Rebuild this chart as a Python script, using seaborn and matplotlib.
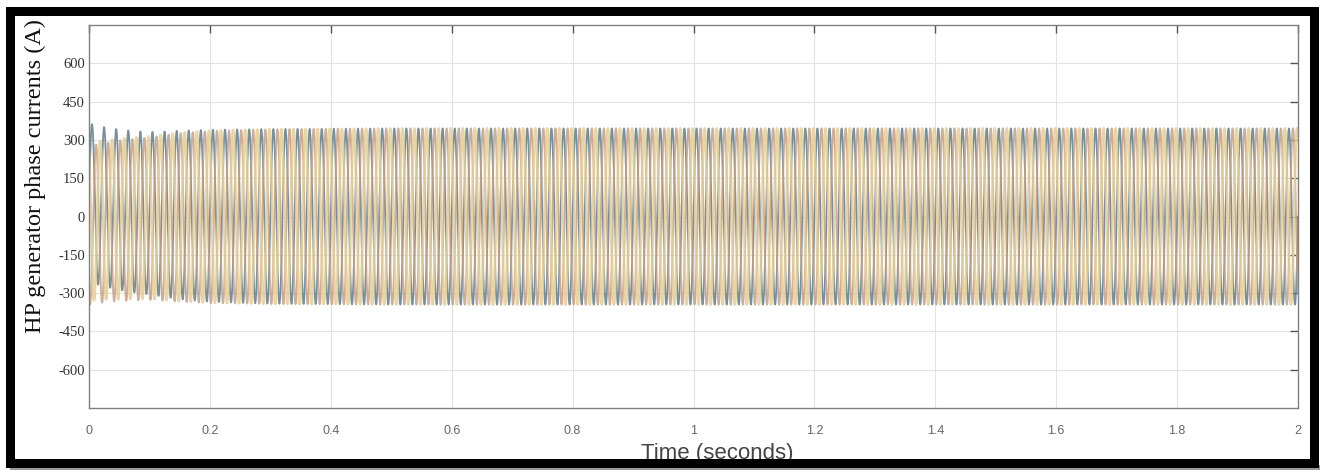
import numpy as np
import pandas as pd
import matplotlib
matplotlib.use("Agg")
import matplotlib.pyplot as plt
import seaborn as sns
from matplotlib.patches import Rectangle

# ---- data ----
freq_hz = 50.0                     # ~100 cycles over 2 s
t_end = 2.0
# peak-current envelope (A) at key times
env_t = [0.0, 0.03, 0.06, 0.10, 0.15, 0.20, 0.30, 0.50, 1.00, 2.00]
env_a = [310, 312, 315, 318, 330, 337, 342, 345, 345, 345]
# initial decaying offsets per phase (A), giving the start-up spikes
dc0 = [55, -35, -20]
dc_tau = 0.07
phase_names = ["Ia", "Ib", "Ic"]
phase_shift_deg = [0, -120, 120]
phase_colors = ["#5f7d90", "#c99f80", "#e2cf98"]

yticks = [-600, -450, -300, -150, 0, 150, 300, 450, 600]
xticks = [0, 0.2, 0.4, 0.6, 0.8, 1.0, 1.2, 1.4, 1.6, 1.8, 2.0]
xticklabels = ["0", "0.2", "0.4", "0.6", "0.8", "1", "1.2", "1.4", "1.6", "1.8", "2"]

# ---- build waveforms ----
t = np.linspace(0, t_end, 24001)
env = np.interp(t, env_t, env_a)
frames = []
for name, sh, d in zip(phase_names, phase_shift_deg, dc0):
    i = env * np.sin(2 * np.pi * freq_hz * t + np.deg2rad(sh)) + d * np.exp(-t / dc_tau)
    frames.append(pd.DataFrame({"t": t, "i": i, "phase": name}))
df = pd.concat(frames, ignore_index=True)

# ---- figure ----
sns.set_theme(style="whitegrid")
plt.rcParams["font.family"] = ["Liberation Sans", "DejaVu Sans"]

W, H = 1320, 470
fig = plt.figure(figsize=(W / 100, H / 100), dpi=100)
fig.patch.set_facecolor("white")
ax_l, ax_r, ax_t, ax_b = 89, 1298, 25, 408
ax = fig.add_axes([ax_l / W, 1 - ax_b / H, (ax_r - ax_l) / W, (ax_b - ax_t) / H])
ax.set_facecolor("white")

for name, col, lw in zip(phase_names, phase_colors, [1.3, 1.4, 1.9]):
    sns.lineplot(data=df[df["phase"] == name], x="t", y="i", ax=ax, color=col,
                 linewidth=lw, alpha=0.85, estimator=None, sort=False, legend=False)

ax.set_xlim(0, 2)
ax.set_ylim(-750, 750)
ax.set_xticks(xticks)
ax.set_xticklabels(xticklabels)
ax.set_yticks(yticks)
ax.set_yticklabels([str(v) for v in yticks])
ax.set_xlabel("")
ax.set_ylabel("")
ax.grid(True, color="#e3e3e3", linewidth=0.8)
for s in ax.spines.values():
    s.set_color("#808080")
    s.set_linewidth(1.0)
ax.tick_params(axis="both", direction="in", top=True, right=True, length=6,
               width=1, color="#555555")
ax.tick_params(axis="x", labelsize=9, labelcolor="#666666", pad=12)
ax.tick_params(axis="y", labelsize=10.5, labelcolor="#333333", pad=3)
for lab in ax.get_yticklabels():
    lab.set_family(["Liberation Serif", "DejaVu Serif"])

fig.text(35 / W, 1 - 176 / H, "HP generator phase currents (A)", rotation=90,
         ha="center", va="center", fontsize=17.5,
         family=["Liberation Serif", "DejaVu Serif"], color="#111111")
fig.text(717 / W, 1 - 459 / H, "Time (seconds)", ha="center", va="baseline",
         fontsize=16, color="#444444", zorder=1)

# black frame around the whole picture, gray shadow below
fig.patches.append(Rectangle((10 / W, 0), (W - 10) / W, 5 / H,
                             transform=fig.transFigure, facecolor="#9a9a9a",
                             edgecolor="none", zorder=5))
fig.patches.append(Rectangle((10.5 / W, 1 - 462.5 / H), (1313.5 - 10.5) / W, (462.5 - 10.5) / H,
                             transform=fig.transFigure, facecolor="none",
                             edgecolor="black", linewidth=9 * 0.72, zorder=10))

fig.savefig("out.png", dpi=100)
